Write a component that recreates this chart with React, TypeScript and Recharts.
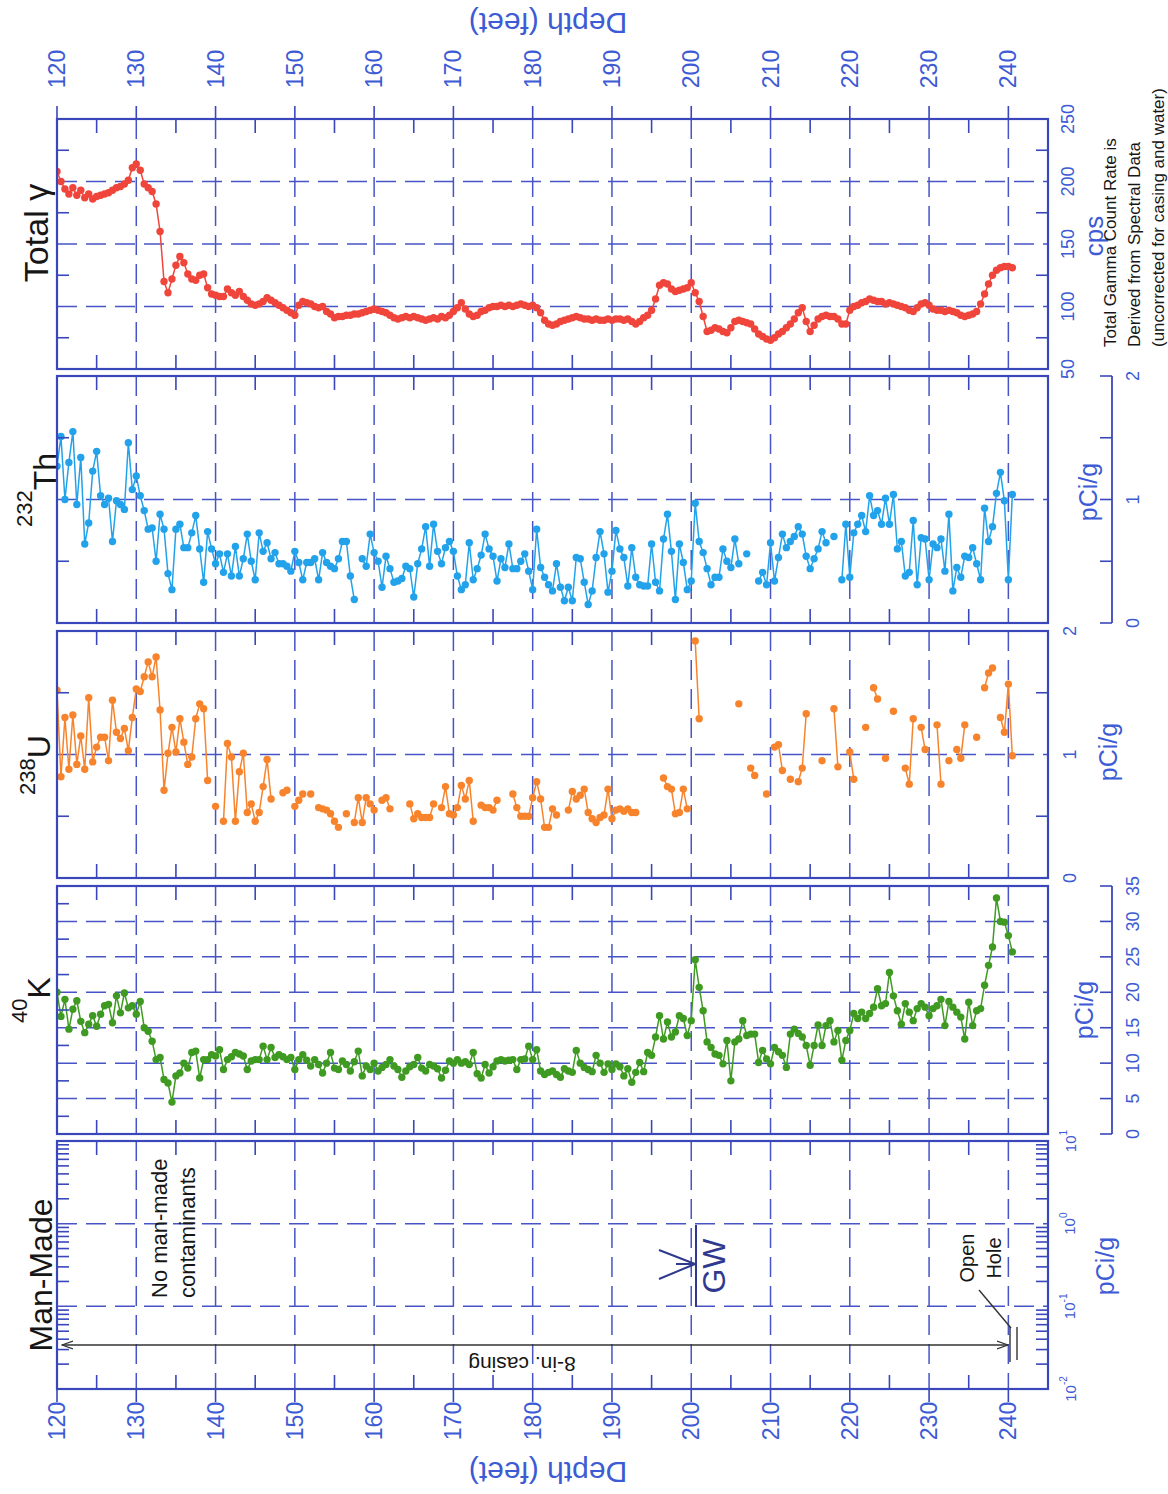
import React from "react";
import { LineChart, Line, XAxis, YAxis, CartesianGrid } from "recharts";

const PAGE_W = 1168;
const PAGE_H = 1494;
const PLOT_L = 57;
const PLOT_R = 1048;

const BLUE = "#3a47bb";
const GRID = "#4654c6";
const LABEL = "#3d5bd4";
const INK = "#161616";
const FONT = "'Liberation Sans', Arial, Helvetica, sans-serif";

// samples every 0.5 ft, 120 -> 240.5
const DEPTH_START = 120;
const DEPTH_STEP = 0.5;

const MAJOR_DEPTHS = [120, 130, 140, 150, 160, 170, 180, 190, 200, 210, 220, 230, 240];
const MINOR_DEPTHS = [125, 135, 145, 155, 165, 175, 185, 195, 205, 215, 225, 235];

// total gamma, cps
const GAMMA = [
  208, 200, 194, 190, 195, 189, 193, 187, 190, 186, 188, 189, 190, 191, 193, 195, 196, 198, 201, 211,
  214, 209, 198, 195, 192, 182, 160, 120, 111, 122, 133, 140, 135, 126, 122, 121, 125, 126, 115, 110,
  109, 108, 108, 114, 111, 109, 112, 108, 105, 102, 101, 102, 104, 107, 105, 103, 101, 99, 97, 95,
  93, 101, 104, 103, 102, 100, 99, 100, 96, 94, 91, 92, 92, 93, 93, 94, 94, 95, 96, 97,
  98, 97, 96, 95, 93, 91, 90, 91, 92, 91, 92, 91, 90, 89, 90, 91, 90, 92, 91, 93,
  96, 99, 103, 98, 94, 92, 93, 96, 97, 99, 100, 100, 101, 100, 101, 100, 101, 102, 101, 100,
  101, 99, 95, 89, 86, 85, 86, 88, 89, 90, 91, 92, 91, 90, 90, 89, 90, 89, 89, 90,
  89, 90, 90, 89, 90, 88, 86, 88, 91, 93, 97, 106, 117, 119, 118, 114, 112, 113, 114, 115,
  119, 111, 104, 92, 80, 81, 83, 82, 80, 79, 83, 88, 89, 88, 87, 86, 82, 78, 76, 74,
  73, 75, 78, 80, 83, 86, 90, 95, 99, 88, 80, 85, 90, 92, 93, 92, 92, 90, 86, 86,
  97, 100, 101, 103, 104, 106, 105, 104, 104, 102, 103, 102, 101, 100, 99, 97, 96, 99, 102, 103,
  101, 98, 97, 97, 96, 97, 96, 95, 93, 92, 93, 94, 96, 102, 110, 118, 125, 129, 131, 132,
  132, 131,
];

// 232Th, pCi/g
const TH = [
  1.27, 1.51, 1.0, 1.3, 1.55, 0.96, 1.34, 0.64, 0.81, 1.23, 1.39, 1.03, 0.96, 1.01, 0.66, 0.99, 0.96, 0.92, 1.46, 1.08,
  1.19, 1.03, 0.91, 0.76, 0.77, 0.5, 0.88, 0.76, 0.4, 0.27, 0.76, 0.8, 0.61, 0.61, 0.73, 0.87, 0.6, 0.33, 0.74, 0.6,
  0.48, 0.56, 0.41, 0.56, 0.38, 0.62, 0.38, 0.52, 0.72, 0.5, 0.35, 0.73, 0.58, 0.65, 0.52, 0.57, 0.48, 0.48, 0.46, 0.42,
  0.58, 0.49, 0.35, 0.49, 0.49, 0.52, 0.35, 0.57, 0.49, 0.46, 0.44, 0.52, 0.66, 0.66, 0.38, 0.19, null, 0.52, 0.46, 0.72,
  0.57, 0.5, 0.29, 0.54, 0.44, 0.33, 0.34, 0.36, 0.46, 0.44, 0.21, 0.48, 0.6, 0.78, 0.46, 0.8, 0.58, 0.48, 0.61, 0.66,
  0.58, 0.38, 0.27, 0.31, 0.65, 0.35, 0.44, 0.55, 0.72, 0.6, 0.54, 0.34, 0.52, 0.45, 0.64, 0.44, 0.44, 0.5, 0.56, 0.42,
  0.27, 0.76, 0.45, 0.37, 0.31, 0.26, 0.48, 0.29, 0.18, 0.29, 0.18, 0.53, 0.52, 0.33, 0.15, 0.26, 0.53, 0.74, 0.56, 0.25,
  0.42, 0.75, 0.6, 0.53, 0.3, 0.61, 0.37, 0.31, 0.3, 0.3, 0.64, 0.33, 0.26, 0.68, 0.88, 0.58, 0.19, 0.64, 0.49, 0.27,
  0.34, 0.97, 0.66, 0.57, 0.44, 0.31, 0.37, 0.37, 0.6, 0.5, 0.45, 0.68, 0.48, null, 0.56, null, null, 0.34, 0.41, 0.31,
  0.65, 0.34, 0.53, 0.72, 0.61, 0.66, 0.7, 0.78, 0.72, 0.54, 0.44, 0.52, 0.6, 0.74, 0.65, null, 0.7, null, 0.35, 0.8,
  0.37, 0.73, 0.8, 0.87, 0.74, 1.03, 0.87, 0.91, 0.8, 1.01, 0.8, 1.04, 0.6, 0.66, 0.38, 0.41, 0.83, 0.31, 0.69, 0.68,
  0.35, 0.64, 0.61, 0.68, 0.42, 0.88, 0.26, 0.45, 0.37, 0.54, 0.53, 0.61, 0.48, 0.35, 0.93, 0.66, 0.78, 1.05, 1.22, 0.99,
  0.35, 1.04,
];

// 238U, pCi/g
const U = [
  1.52, 0.82, 1.3, 0.88, 1.32, 0.92, 1.15, 0.88, 1.46, 0.94, 1.06, 1.14, 1.14, 0.95, 1.44, 1.18, 1.13, 1.21, 1.03, 1.3,
  1.53, 1.51, 1.63, 1.75, 1.63, 1.79, 1.36, 0.71, 1.01, 1.22, 1.02, 1.29, 1.1, 0.92, 0.98, 1.29, 1.41, 1.37, 0.79, null,
  0.58, null, 0.46, 1.09, 0.98, 0.46, 0.86, 1.01, 0.53, 0.6, 0.46, 0.53, 0.74, 0.96, 0.64, null, null, 0.69, 0.71, null,
  0.58, 0.63, 0.68, null, 0.68, null, 0.57, 0.56, 0.55, 0.52, 0.46, 0.41, null, 0.52, null, 0.45, 0.65, 0.45, 0.65, 0.6,
  0.55, null, 0.63, 0.65, 0.56, null, null, null, null, 0.6, 0.48, 0.52, 0.49, 0.49, 0.49, 0.6, null, 0.57, 0.74, 0.52,
  0.51, 0.57, 0.75, 0.64, 0.79, 0.46, null, 0.59, 0.57, 0.57, 0.55, 0.63, null, null, null, 0.68, 0.57, 0.5, 0.5, 0.5,
  0.65, 0.78, 0.64, 0.41, 0.41, 0.56, 0.51, null, null, 0.55, 0.7, 0.64, 0.67, 0.72, 0.53, 0.48, 0.45, 0.49, 0.51, 0.72,
  0.48, 0.55, 0.56, 0.54, 0.56, 0.53, 0.53, null, null, null, null, null, null, 0.81, 0.74, 0.72, 0.52, 0.53, 0.72, 0.56,
  null, 1.92, 1.29, null, null, null, null, null, null, null, null, null, 1.41, null, null, 0.89, 0.83, null, null, 0.68,
  null, 1.06, 1.08, 0.87, null, 0.8, null, 0.78, 0.89, 1.33, null, null, null, 0.95, null, null, 1.37, 0.9, null, null,
  1.02, 0.8, null, null, 1.22, null, 1.54, 1.45, null, 0.97, null, 1.35, null, null, 0.89, 0.76, 1.29, null, 1.22, 1.04,
  null, null, 1.24, 0.76, null, 0.95, null, 1.04, 0.97, 1.24, null, null, 1.14, null, 1.54, 1.66, 1.7, null, 1.3, 1.18,
  1.57, 0.99,
];

// 40K, pCi/g
const K = [
  20.0, 16.6, 19.0, 14.8, 17.6, 18.8, 15.9, 14.3, 15.5, 16.7, 15.2, 16.9, 18.1, 18.3, 15.7, 19.5, 17.1, 19.9, 17.8, 18.1,
  16.9, 18.7, 15.0, 14.5, 13.1, 10.5, 10.8, 7.7, 7.2, 4.5, 8.2, 8.6, 10.0, 9.3, 11.5, 11.7, 7.9, 10.5, 10.5, 11.2,
  11.0, 11.9, 9.1, 10.5, 10.9, 11.5, 11.3, 11.0, 9.1, 10.3, 10.5, 10.5, 12.4, 10.5, 12.2, 10.8, 11.2, 10.9, 10.5, 10.8,
  9.1, 10.5, 11.2, 10.4, 9.6, 10.5, 9.8, 8.6, 10.0, 11.5, 9.3, 9.1, 10.3, 9.8, 8.9, 10.2, 11.7, 8.2, 9.6, 9.1,
  10.0, 8.9, 9.4, 9.8, 10.5, 9.6, 9.1, 8.0, 8.9, 9.5, 9.8, 10.8, 9.3, 8.9, 9.8, 9.6, 9.2, 7.9, 9.0, 10.3,
  10.0, 10.5, 10.0, 10.2, 9.8, 11.5, 8.5, 7.9, 9.8, 8.6, 9.5, 10.3, 10.5, 10.3, 10.4, 10.5, 9.1, 10.5, 10.6, 12.4,
  10.5, 11.9, 8.9, 8.4, 8.7, 8.9, 8.4, 8.0, 9.2, 8.9, 8.7, 11.8, 10.0, 9.4, 9.1, 8.8, 11.1, 10.0, 8.7, 9.9,
  9.1, 9.9, 9.5, 8.2, 9.2, 7.3, 8.7, 10.1, 8.8, 11.5, 11.1, 13.7, 16.7, 13.4, 15.8, 13.7, 14.4, 16.7, 16.3, 13.9,
  16.0, 24.6, 20.7, 17.4, 13.0, 12.2, 11.3, 11.1, 9.9, 13.2, 7.5, 13.0, 13.4, 16.0, 13.9, 14.1, 14.1, 10.1, 11.8, 10.6,
  9.9, 12.2, 11.6, 11.1, 9.4, 14.1, 14.8, 14.2, 13.7, 12.5, 9.7, 12.5, 15.4, 12.5, 15.3, 16.0, 13.0, 14.6, 10.4, 13.2,
  14.6, 17.0, 16.3, 17.2, 16.3, 17.0, 17.9, 20.5, 18.1, 18.4, 22.8, 19.5, 17.4, 15.5, 18.4, 17.2, 16.0, 17.7, 18.4, 17.9,
  16.7, 17.7, 18.1, 19.0, 15.3, 18.7, 17.9, 17.2, 16.5, 13.4, 18.6, 15.3, 17.4, 17.7, 21.0, 23.8, 26.4, 33.3, 30.0, 29.9,
  28.0, 25.7,
];

const ROWS = GAMMA.map((g, i) => ({
  depth: DEPTH_START + i * DEPTH_STEP,
  gamma: g,
  th: TH[i],
  u: U[i],
  k: K[i],
}));

type PanelCfg = {
  key: string;
  color?: string;
  top: number;
  bottom: number;
  domain: [number, number];
  log?: boolean;
  grid: number[];
  labels: number[];
  labelX: number;
  minor: number[];
  minorRight: boolean;
  outer?: number[];
  outerLabels?: number[];
  depthLabels?: "top" | "bottom";
};

const PANELS: PanelCfg[] = [
  {
    key: "gamma", color: "#f0453b", top: 119, bottom: 369, domain: [50, 250],
    grid: [100, 150, 200], labels: [50, 100, 150, 200, 250], labelX: 1068,
    minor: [75, 125, 175, 225], minorRight: true, depthLabels: "top",
  },
  {
    key: "th", color: "#22a2ea", top: 376, bottom: 623, domain: [0, 2],
    grid: [1], labels: [], labelX: 1068, minor: [0.5, 1.5], minorRight: false,
    outer: [0, 0.5, 1, 1.5, 2], outerLabels: [0, 1, 2],
  },
  {
    key: "u", color: "#f7842c", top: 631, bottom: 878, domain: [0, 2],
    grid: [1], labels: [0, 1, 2], labelX: 1070, minor: [0.5, 1.5], minorRight: true,
  },
  {
    key: "k", color: "#3f9a22", top: 886, bottom: 1134, domain: [0, 35],
    grid: [5, 10, 15, 20, 25, 30], labels: [], labelX: 1068,
    minor: [2.5, 7.5, 12.5, 17.5, 22.5, 27.5, 32.5], minorRight: false,
    outer: [0, 5, 10, 15, 20, 25, 30, 35], outerLabels: [0, 5, 10, 15, 20, 25, 30, 35],
  },
  {
    key: "mm", top: 1141, bottom: 1389, domain: [0.01, 10], log: true,
    grid: [0.1, 1], labels: [0.01, 0.1, 1, 10], labelX: 1070,
    minor: [0.02, 0.03, 0.04, 0.05, 0.06, 0.07, 0.08, 0.09, 0.2, 0.3, 0.4, 0.5, 0.6, 0.7, 0.8, 0.9, 2, 3, 4, 5, 6, 7, 8, 9],
    minorRight: true, depthLabels: "bottom",
  },
];

function VText({ x, y, size, color = INK, anchor = "middle", children }: any) {
  return (
    <text
      x={x}
      y={y}
      transform={`rotate(-90 ${x} ${y})`}
      textAnchor={anchor}
      dominantBaseline="central"
      fontSize={size}
      fill={color}
    >
      {children}
    </text>
  );
}

function PanelChart({ cfg }: { cfg: PanelCfg }) {
  const { top, bottom } = cfg;

  const depthTick = (p: any) => {
    if (!cfg.depthLabels) return <g />;
    const x = p.x;
    const onTop = cfg.depthLabels === "top";
    const ty = onTop ? 69 : 1421;
    return (
      <g>
        <line
          x1={x} x2={x}
          y1={onTop ? top - 13 : bottom} y2={onTop ? top : bottom + 13}
          stroke={BLUE} strokeWidth={1.6}
        />
        <VText x={x} y={ty} size={23} color={LABEL}>{p.payload.value}</VText>
      </g>
    );
  };

  const minorDepthTick = (p: any) => (
    <g>
      <line x1={p.x} x2={p.x} y1={top} y2={top + 14} stroke={BLUE} strokeWidth={1.6} />
      <line x1={p.x} x2={p.x} y1={bottom - 14} y2={bottom} stroke={BLUE} strokeWidth={1.6} />
    </g>
  );

  const valueTick = (p: any) => {
    if (!cfg.labels.length) return <g />;
    const v = p.payload.value;
    if (cfg.log) {
      const e = Math.round(Math.log10(v));
      return (
        <text
          x={cfg.labelX} y={p.y}
          transform={`rotate(-90 ${cfg.labelX} ${p.y})`}
          textAnchor="middle" dominantBaseline="central"
          fontSize={15} fill={LABEL}
        >
          10<tspan fontSize={10} dy={-7}>{e}</tspan>
        </text>
      );
    }
    return <VText x={cfg.labelX} y={p.y} size={18} color={LABEL}>{v}</VText>;
  };

  const minorValueTick = (p: any) => (
    <g>
      <line x1={PLOT_L} x2={PLOT_L + 12} y1={p.y} y2={p.y} stroke={BLUE} strokeWidth={1.6} />
      {cfg.minorRight && (
        <line x1={PLOT_R - 12} x2={PLOT_R} y1={p.y} y2={p.y} stroke={BLUE} strokeWidth={1.6} />
      )}
    </g>
  );

  const outerTick = (p: any) => {
    const v = p.payload.value;
    return (
      <g>
        <line x1={1100} x2={1112} y1={p.y} y2={p.y} stroke={BLUE} strokeWidth={1.6} />
        {cfg.outerLabels && cfg.outerLabels.includes(v) && (
          <VText x={1133} y={p.y} size={18} color={LABEL}>{v}</VText>
        )}
      </g>
    );
  };

  // mirrored axes take no room, so the plot keeps exactly the margins below
  return (
    <div style={{ position: "absolute", left: 0, top: 0 }}>
      <LineChart
        width={PAGE_W}
        height={PAGE_H}
        data={ROWS}
        margin={{ top, bottom: PAGE_H - bottom, left: PLOT_L, right: PAGE_W - PLOT_R }}
      >
        <CartesianGrid
          xAxisId="d"
          yAxisId="v"
          stroke={GRID}
          strokeWidth={1.5}
          strokeDasharray="20 9"
          horizontalValues={cfg.grid}
          verticalValues={MAJOR_DEPTHS.slice(1)}
        />
        <XAxis
          xAxisId="d" dataKey="depth" type="number" domain={[120, 245]} allowDataOverflow
          ticks={MAJOR_DEPTHS} interval={0} orientation={cfg.depthLabels === "bottom" ? "bottom" : "top"}
          mirror height={2} axisLine={false} tickLine={false} tick={depthTick}
        />
        <XAxis
          xAxisId="m" dataKey="depth" type="number" domain={[120, 245]} allowDataOverflow
          ticks={MINOR_DEPTHS} interval={0} orientation="bottom"
          mirror height={2} axisLine={false} tickLine={false} tick={minorDepthTick}
        />
        <YAxis
          yAxisId="v" orientation="right" type="number" scale={cfg.log ? "log" : "linear"}
          domain={cfg.domain} allowDataOverflow ticks={cfg.labels.length ? cfg.labels : cfg.grid}
          interval={0} mirror width={2} axisLine={false} tickLine={false} tick={valueTick}
        />
        <YAxis
          yAxisId="mv" orientation="left" type="number" scale={cfg.log ? "log" : "linear"}
          domain={cfg.domain} allowDataOverflow ticks={cfg.minor}
          interval={0} mirror width={2} axisLine={false} tickLine={false} tick={minorValueTick}
        />
        {cfg.outer && (
          <YAxis
            yAxisId="o" orientation="right" type="number"
            domain={cfg.domain} allowDataOverflow ticks={cfg.outer}
            interval={0} mirror width={2} axisLine={false} tickLine={false} tick={outerTick}
          />
        )}
        {cfg.color && (
          <Line
            xAxisId="d"
            yAxisId="v"
            dataKey={cfg.key}
            stroke={cfg.color}
            strokeWidth={1.5}
            dot={{ r: 3.7, fill: cfg.color, stroke: cfg.color, strokeWidth: 0 }}
            connectNulls={false}
            isAnimationActive={false}
          />
        )}
      </LineChart>
    </div>
  );
}

function Overlay() {
  return (
    <svg
      width={PAGE_W}
      height={PAGE_H}
      style={{ position: "absolute", left: 0, top: 0, pointerEvents: "none" }}
    >
      <defs>
        <marker id="arr" markerWidth="12" markerHeight="10" refX="11" refY="5" orient="auto-start-reverse" markerUnits="userSpaceOnUse">
          <path d="M0,1 L11,5 L0,9" fill="none" stroke="#333" strokeWidth={1.3} />
        </marker>
      </defs>

      {PANELS.map((p) => (
        <rect
          key={p.key}
          x={PLOT_L}
          y={p.top}
          width={PLOT_R - PLOT_L}
          height={p.bottom - p.top}
          fill="none"
          stroke={BLUE}
          strokeWidth={2.2}
        />
      ))}

      {/* outer value axes for Th and K */}
      <line x1={1112} x2={1112} y1={376} y2={623} stroke={BLUE} strokeWidth={1.8} />
      <line x1={1112} x2={1112} y1={886} y2={1134} stroke={BLUE} strokeWidth={1.8} />

      {/* depth titles, upside down */}
      <text x={548} y={13} transform="rotate(180 548 13)" textAnchor="middle" fontSize={30} fill={LABEL}>
        Depth (feet)
      </text>
      <text x={548} y={1462} transform="rotate(180 548 1462)" textAnchor="middle" fontSize={30} fill={LABEL}>
        Depth (feet)
      </text>

      {/* panel titles */}
      <text x={48} y={233} transform="rotate(-90 48 233)" textAnchor="middle" fontSize={34} fill={INK}>
        Total γ
      </text>
      <text x={56} y={490} transform="rotate(-90 56 490)" textAnchor="middle" fontSize={32} fill={INK}>
        <tspan fontSize={22} dy={-24}>232</tspan>
        <tspan dy={24}>Th</tspan>
      </text>
      <text x={50} y={765} transform="rotate(-90 50 765)" textAnchor="middle" fontSize={32} fill={INK}>
        <tspan fontSize={22} dy={-15}>238</tspan>
        <tspan dy={15}>U</tspan>
      </text>
      <text x={50} y={1000} transform="rotate(-90 50 1000)" textAnchor="middle" fontSize={32} fill={INK}>
        <tspan fontSize={22} dy={-23}>40</tspan>
        <tspan dy={23}>K</tspan>
      </text>
      <text x={52} y={1275} transform="rotate(-90 52 1275)" textAnchor="middle" fontSize={32} fill={INK}>
        Man-Made
      </text>

      {/* units and notes */}
      <VText x={1094} y={236} size={26} color={LABEL}>cps</VText>
      <VText x={1110} y={347} size={17} anchor="start">Total Gamma Count Rate is</VText>
      <VText x={1134} y={347} size={17} anchor="start">Derived from Spectral Data</VText>
      <VText x={1158} y={347} size={17} anchor="start">(uncorrected for casing and water)</VText>
      <VText x={1088} y={492} size={25} color={LABEL}>pCi/g</VText>
      <VText x={1108} y={752} size={25} color={LABEL}>pCi/g</VText>
      <VText x={1084} y={1010} size={25} color={LABEL}>pCi/g</VText>
      <VText x={1105} y={1266} size={25} color={LABEL}>pCi/g</VText>

      {/* man-made annotations */}
      <VText x={159} y={1298} size={22} anchor="start">No man-made</VText>
      <VText x={187} y={1298} size={22} anchor="start">contaminants</VText>
      <line x1={62} x2={1008} y1={1345} y2={1345} stroke="#333" strokeWidth={1.4} markerStart="url(#arr)" markerEnd="url(#arr)" />
      <text x={522} y={1357} transform="rotate(180 522 1357)" textAnchor="middle" fontSize={21} fill={INK}>
        8-in. casing
      </text>
      <line x1={1010} x2={1010} y1={1327} y2={1362} stroke="#333" strokeWidth={1.4} />
      <line x1={1017} x2={1017} y1={1327} y2={1360} stroke="#333" strokeWidth={1.4} />
      <line x1={979} x2={1011} y1={1290} y2={1328} stroke="#333" strokeWidth={1.4} />
      <VText x={967} y={1258} size={20}>Open</VText>
      <VText x={994} y={1258} size={20}>Hole</VText>

      <line x1={696} x2={696} y1={1225} y2={1307} stroke="#2f3a8f" strokeWidth={2} />
      <line x1={659} x2={695} y1={1250} y2={1264} stroke="#2f3a8f" strokeWidth={2} />
      <line x1={659} x2={695} y1={1279} y2={1264} stroke="#2f3a8f" strokeWidth={2} />
      <line x1={676} x2={695} y1={1264} y2={1264} stroke="#2f3a8f" strokeWidth={2} />
      <VText x={714} y={1266} size={32} color="#2f3a8f">GW</VText>
    </svg>
  );
}

export default function App() {
  return (
    <div
      style={{
        position: "absolute",
        left: 0,
        top: 0,
        width: PAGE_W,
        height: PAGE_H,
        background: "#fff",
        fontFamily: FONT,
      }}
    >
      {PANELS.map((cfg) => (
        <PanelChart key={cfg.key} cfg={cfg} />
      ))}
      <Overlay />
    </div>
  );
}
